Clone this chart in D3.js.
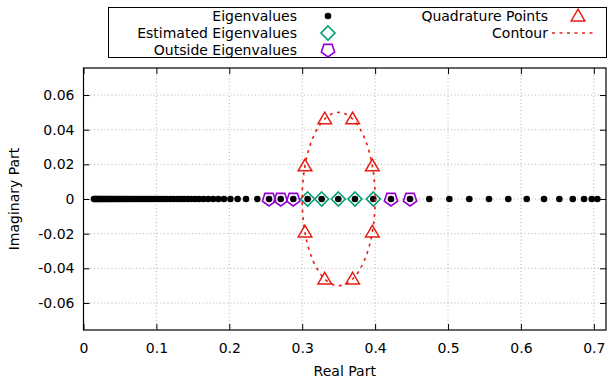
<!DOCTYPE html>
<html>
<head>
<meta charset="utf-8">
<script src="https://cdn.jsdelivr.net/npm/d3@7"></script>
<style>
  body { margin: 0; background: #fff; }
  svg { font-family: "DejaVu Sans", sans-serif; }
</style>
</head>
<body>
<svg id="chart" width="610" height="378"></svg>
<script>
// eigenvalues (imaginary part = 0)
const eigenvalues = [
  0.0144, 0.0158, 0.0171, 0.0185, 0.0199, 0.0213, 0.0226, 0.0243, 0.0259, 0.0276,
  0.0292, 0.0309, 0.0326, 0.0344, 0.0364, 0.0383, 0.0402, 0.0422, 0.0443, 0.0465,
  0.0487, 0.0509, 0.0532, 0.0556, 0.0580, 0.0605, 0.0631, 0.0657, 0.0684, 0.0712,
  0.0741, 0.0770, 0.0800, 0.0830, 0.0861, 0.0893, 0.0926, 0.0960, 0.0996, 0.1033,
  0.1071, 0.1111, 0.1152, 0.1195, 0.1239, 0.1284, 0.1331, 0.1379, 0.1428, 0.1479,
  0.1532, 0.1588, 0.1647, 0.1711, 0.1778, 0.1850, 0.1927, 0.2015, 0.2114, 0.2229,
  0.2384, 0.2545, 0.2705, 0.2878, 0.3075, 0.3267, 0.3495, 0.3724, 0.3975, 0.4218,
  0.4479, 0.4743, 0.5018, 0.5292, 0.5562, 0.5827, 0.6080, 0.6317, 0.6527, 0.6711,
  0.6866, 0.6971, 0.7048
];
const estimated = [0.3075, 0.3267, 0.3495, 0.3724, 0.3975];
const outside = [0.2545, 0.2705, 0.2878, 0.4218, 0.4479];
const quadRe = [0.3962, 0.3691, 0.3309, 0.3038, 0.3038, 0.3309, 0.3691, 0.3962];
const quadIm = [0.0191, 0.0462, 0.0462, 0.0191, -0.0191, -0.0462, -0.0462, -0.0191];
const contourCenter = 0.35;
const contourRadius = 0.05;

const xTicks = [0, 0.1, 0.2, 0.3, 0.4, 0.5, 0.6, 0.7];
const yTicks = [-0.06, -0.04, -0.02, 0, 0.02, 0.04, 0.06];

const black = "#000", green = "#009e73", purple = "#9400d3", red = "#e51e10";
const fs = 14;

const svg = d3.select("#chart");
const m = {left: 83.5, right: 606, top: 68, bottom: 330};

const x = d3.scaleLinear().domain([0, 0.7167]).range([m.left, m.right]);
const y = d3.scaleLinear().domain([-0.0756, 0.0756]).range([m.bottom, m.top]);

// grid
const grid = svg.append("g")
  .attr("stroke", "#a0a0a0").attr("stroke-width", 0.8).attr("stroke-dasharray", "1,2.5");
grid.selectAll(".gx").data(xTicks.slice(1)).join("line")
  .attr("x1", d => x(d)).attr("x2", d => x(d)).attr("y1", m.top).attr("y2", m.bottom);
grid.selectAll(".gy").data(yTicks).join("line")
  .attr("y1", d => y(d)).attr("y2", d => y(d)).attr("x1", m.left).attr("x2", m.right);

// axes: ticks inward, mirrored
const tick = 6;
const fmt = d => d === 0 ? "0" : (Math.abs(d) < 0.095 ? d.toFixed(2) : d.toFixed(1));
svg.append("g").attr("transform", `translate(0,${m.bottom})`)
  .call(d3.axisBottom(x).tickValues(xTicks).tickSize(-tick).tickPadding(13).tickFormat(fmt));
svg.append("g").attr("transform", `translate(0,${m.top})`)
  .call(d3.axisTop(x).tickValues(xTicks).tickSize(-tick).tickFormat(""));
svg.append("g").attr("transform", `translate(${m.left},0)`)
  .call(d3.axisLeft(y).tickValues(yTicks).tickSize(-tick).tickPadding(9).tickFormat(fmt));
svg.append("g").attr("transform", `translate(${m.right},0)`)
  .call(d3.axisRight(y).tickValues(yTicks).tickSize(-tick).tickFormat(""));
svg.selectAll(".domain").remove();
svg.selectAll(".tick line").attr("stroke", "#000").attr("stroke-width", 1);
svg.selectAll(".tick text").attr("font-size", fs).attr("fill", "#000")
  .attr("font-family", "DejaVu Sans, sans-serif");

svg.append("rect")
  .attr("x", m.left).attr("y", m.top)
  .attr("width", m.right - m.left).attr("height", m.bottom - m.top)
  .attr("fill", "none").attr("stroke", "#000").attr("stroke-width", 1.2);

svg.append("text").attr("x", (m.left + m.right) / 2).attr("y", 376)
  .attr("text-anchor", "middle").attr("font-size", fs).text("Real Part");
svg.append("text").attr("transform", `translate(19,${y(0)}) rotate(-90)`)
  .attr("text-anchor", "middle").attr("font-size", fs).text("Imaginary Part");

// marker shapes
const pentagon = r => {
  const pts = d3.range(5).map(i => {
    const a = Math.PI / 2 + i * 2 * Math.PI / 5;
    return [r * Math.cos(a), r * Math.sin(a)];
  });
  return "M" + pts.join("L") + "Z";
};
const diamond = r => `M0,${-r}L${r},0L0,${r}L${-r},0Z`;
const triangle = r => `M0,${-r}L${r},${r * 0.72}L${-r},${r * 0.72}Z`;

const plot = svg.append("g");

plot.selectAll(".eig").data(eigenvalues).join("circle")
  .attr("cx", d => x(d)).attr("cy", y(0)).attr("r", 3.3).attr("fill", black);

plot.selectAll(".est").data(estimated).join("path")
  .attr("transform", d => `translate(${x(d)},${y(0)})`)
  .attr("d", diamond(7)).attr("fill", "none").attr("stroke", green).attr("stroke-width", 1.6);

plot.selectAll(".out").data(outside).join("path")
  .attr("transform", d => `translate(${x(d)},${y(0)})`)
  .attr("d", pentagon(7)).attr("fill", "none").attr("stroke", purple).attr("stroke-width", 1.6);

plot.selectAll(".quad").data(quadRe).join("path")
  .attr("transform", (d, i) => `translate(${x(d)},${y(quadIm[i])})`)
  .attr("d", triangle(6.8)).attr("fill", "none").attr("stroke", red).attr("stroke-width", 1.5);

plot.append("ellipse")
  .attr("cx", x(contourCenter)).attr("cy", y(0))
  .attr("rx", x(contourCenter + contourRadius) - x(contourCenter))
  .attr("ry", y(0) - y(contourRadius))
  .attr("fill", "none").attr("stroke", red).attr("stroke-width", 1.6)
  .attr("stroke-dasharray", "3,4.5");

// legend
const key = svg.append("g");
key.append("rect").attr("x", 108.5).attr("y", 7.5).attr("width", 498).attr("height", 50)
  .attr("fill", "#fff").attr("stroke", "#000").attr("stroke-width", 1);

const keyItems = [
  {label: "Eigenvalues", tx: 297, sx: 328, row: 0, kind: "dot"},
  {label: "Estimated Eigenvalues", tx: 297, sx: 328, row: 1, kind: "diamond"},
  {label: "Outside Eigenvalues", tx: 297, sx: 328, row: 2, kind: "pentagon"},
  {label: "Quadrature Points", tx: 548, sx: 578, row: 0, kind: "triangle"},
  {label: "Contour", tx: 548, sx: 573, row: 1, kind: "line"}
];
const rowY = r => 16 + r * 17;
keyItems.forEach(k => {
  key.append("text").attr("x", k.tx).attr("y", rowY(k.row)).attr("dy", "0.35em")
    .attr("text-anchor", "end").attr("font-size", fs).text(k.label);
  const g = key.append("g").attr("transform", `translate(${k.sx},${rowY(k.row)})`);
  if (k.kind === "dot") g.append("circle").attr("r", 3.3).attr("fill", black);
  if (k.kind === "diamond") g.append("path").attr("d", diamond(7)).attr("fill", "none").attr("stroke", green).attr("stroke-width", 1.6);
  if (k.kind === "pentagon") g.append("path").attr("d", pentagon(7)).attr("fill", "none").attr("stroke", purple).attr("stroke-width", 1.6);
  if (k.kind === "triangle") g.append("path").attr("d", triangle(6.8)).attr("fill", "none").attr("stroke", red).attr("stroke-width", 1.5);
  if (k.kind === "line") g.append("line").attr("x1", -21).attr("x2", 22)
    .attr("stroke", red).attr("stroke-width", 1.6).attr("stroke-dasharray", "3,4.5");
});
</script>
</body>
</html>
